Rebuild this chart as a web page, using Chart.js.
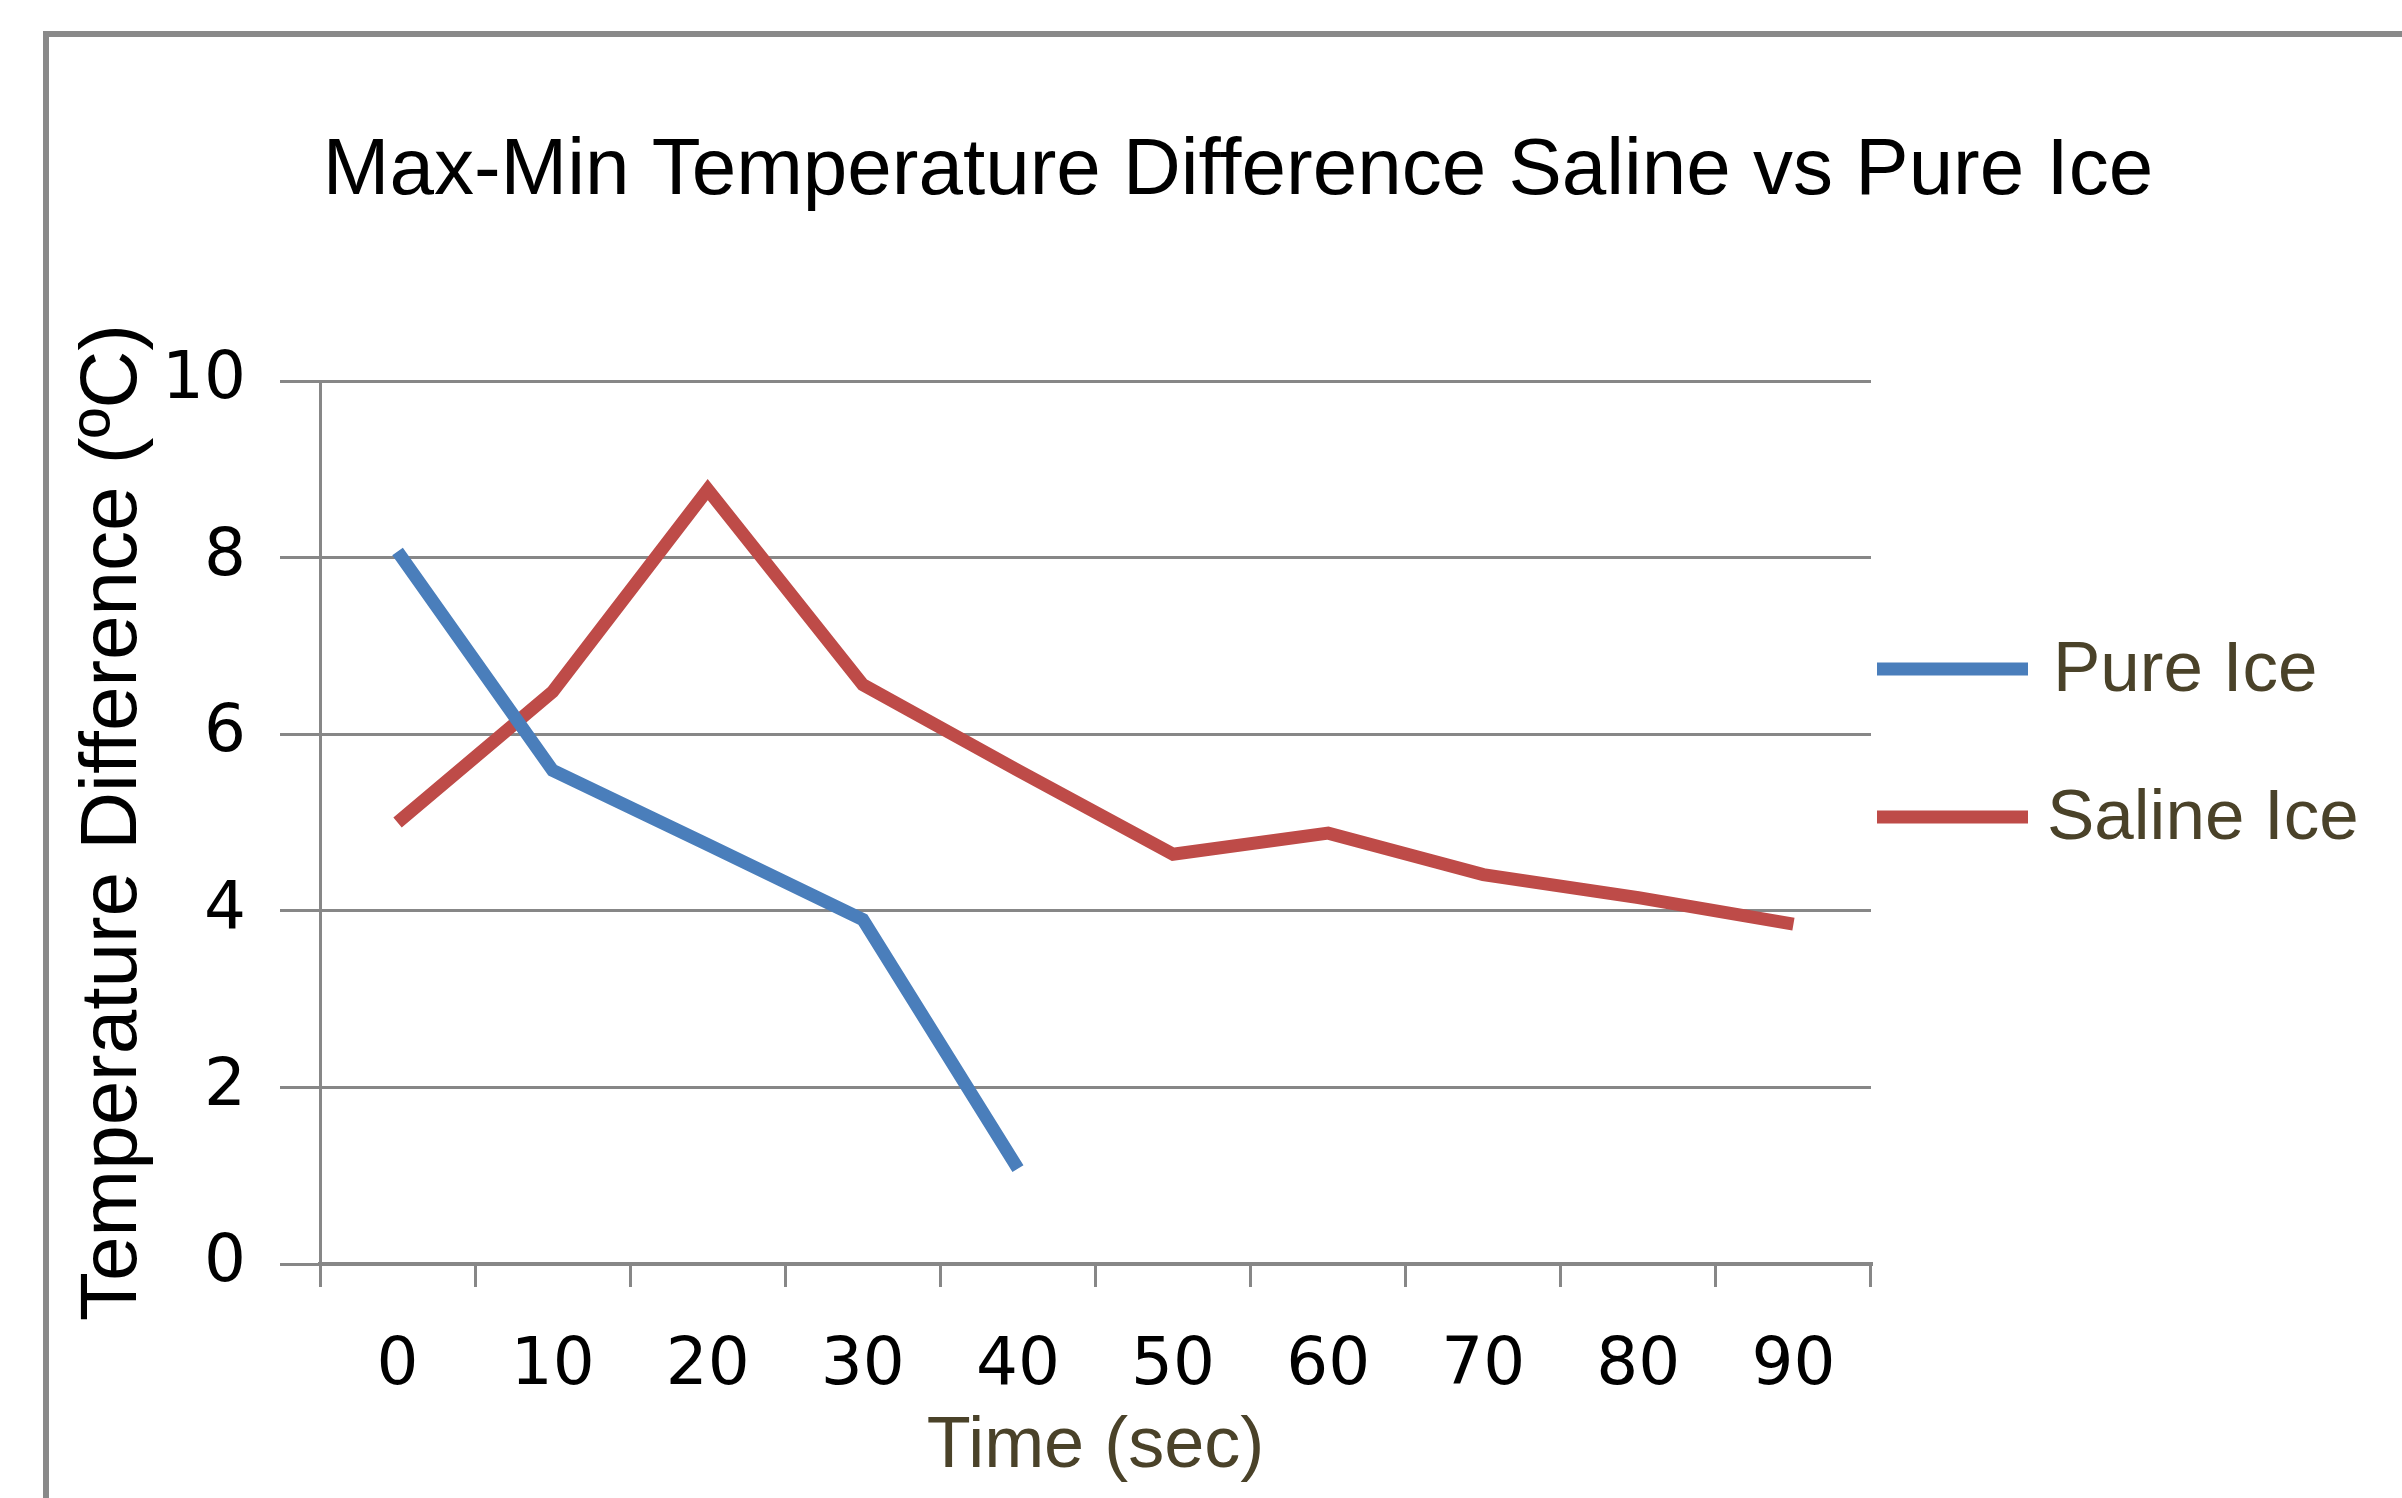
<!DOCTYPE html>
<html>
<head>
<meta charset="utf-8">
<script src="https://cdn.jsdelivr.net/npm/chart.js@4.4.1/dist/chart.umd.min.js"></script>
<style>
  html, body { margin: 0; padding: 0; background: #fff; }
  canvas { display: block; }
</style>
</head>
<body>
<canvas id="tempChart" width="2402" height="1498"></canvas>
<script>
const chartTitle = "Max-Min Temperature Difference Saline vs Pure Ice";
const timeLabels = ["0", "10", "20", "30", "40", "50", "60", "70", "80", "90"];
const pureIce = [8.07, 5.59, 4.75, 3.9, 1.08];
const salineIce = [5.0, 6.48, 8.77, 6.56, 5.59, 4.64, 4.88, 4.41, 4.15, 3.85];
const yTicks = [0, 2, 4, 6, 8, 10];

const colors = {
  pure: "#4A7EBB",
  saline: "#BE4B48",
  grid: "#878787",
  brown: "#4A4229",
};

// frame, title and legend are drawn by hand to sit where the original puts them
const decorPlugin = {
  id: "decor",
  afterDraw(chart) {
    const ctx = chart.ctx;
    ctx.save();
    // outer frame (top + left)
    ctx.strokeStyle = "#898989";
    ctx.lineWidth = 6;
    ctx.beginPath();
    ctx.moveTo(2402, 34);
    ctx.lineTo(46, 34);
    ctx.lineTo(46, 1498);
    ctx.stroke();

    // title
    ctx.fillStyle = "#000";
    ctx.font = "80px 'Liberation Sans', Arial, sans-serif";
    ctx.textAlign = "center";
    ctx.textBaseline = "middle";
    ctx.fillText(chartTitle, 1238, 172);

    // legend
    const rows = [669, 817];
    chart.data.datasets.forEach((ds, i) => {
      const y = rows[i];
      ctx.strokeStyle = ds.borderColor;
      ctx.lineWidth = 13;
      ctx.lineCap = "butt";
      ctx.beginPath();
      ctx.moveTo(1877, y);
      ctx.lineTo(2028, y);
      ctx.stroke();
      ctx.fillStyle = colors.brown;
      ctx.font = "71px 'Liberation Sans', Arial, sans-serif";
      ctx.textAlign = "left";
      ctx.fillText(ds.label, i === 0 ? 2053 : 2047, y + 2);
    });
    ctx.restore();
  },
};

new Chart(document.getElementById("tempChart"), {
  type: "line",
  data: {
    labels: timeLabels,
    datasets: [
      {
        label: "Pure Ice",
        data: pureIce,
        borderColor: colors.pure,
        borderWidth: 13,
        pointRadius: 0,
        tension: 0,
        fill: false,
      },
      {
        label: "Saline Ice",
        data: salineIce,
        borderColor: colors.saline,
        borderWidth: 13,
        pointRadius: 0,
        tension: 0,
        fill: false,
      },
    ],
  },
  options: {
    responsive: false,
    devicePixelRatio: 1,
    animation: false,
    layout: {
      padding: { left: 46, right: 531, top: 381, bottom: 0 },
    },
    plugins: {
      legend: { display: false },
      title: { display: false },
      tooltip: { enabled: false },
    },
    scales: {
      x: {
        type: "category",
        offset: true,
        afterFit: (scale) => { scale.height = 234; },
        grid: {
          offset: true,
          drawOnChartArea: false,
          drawTicks: true,
          tickLength: 23,
          color: colors.grid,
          lineWidth: 3,
        },
        border: { display: true, color: colors.grid, width: 4 },
        ticks: {
          color: "#000",
          padding: 40,
          maxRotation: 0,
          font: { family: "'DejaVu Sans'", size: 66 },
        },
        title: {
          display: true,
          text: "Time (sec)",
          color: colors.brown,
          padding: { top: 0, bottom: 8 },
          font: { family: "'Liberation Sans', Arial", size: 72, lineHeight: 1.2 },
        },
      },
      y: {
        min: 0,
        max: 10,
        afterFit: (scale) => { scale.width = 274; },
        afterBuildTicks: (scale) => {
          scale.ticks = yTicks.map((v) => ({ value: v }));
        },
        grid: {
          color: colors.grid,
          lineWidth: 3,
          drawTicks: true,
          tickLength: 40,
        },
        border: { display: true, color: colors.grid, width: 3 },
        ticks: {
          color: "#000",
          padding: 34,
          font: { family: "'DejaVu Sans'", size: 66 },
        },
        title: {
          display: true,
          text: "Temperature Difference (ºC)",
          color: "#000",
          padding: { top: 20, bottom: 0 },
          font: { family: "'Liberation Sans', Arial", size: 80, lineHeight: 1.2 },
        },
      },
    },
  },
  plugins: [decorPlugin],
});
</script>
</body>
</html>
